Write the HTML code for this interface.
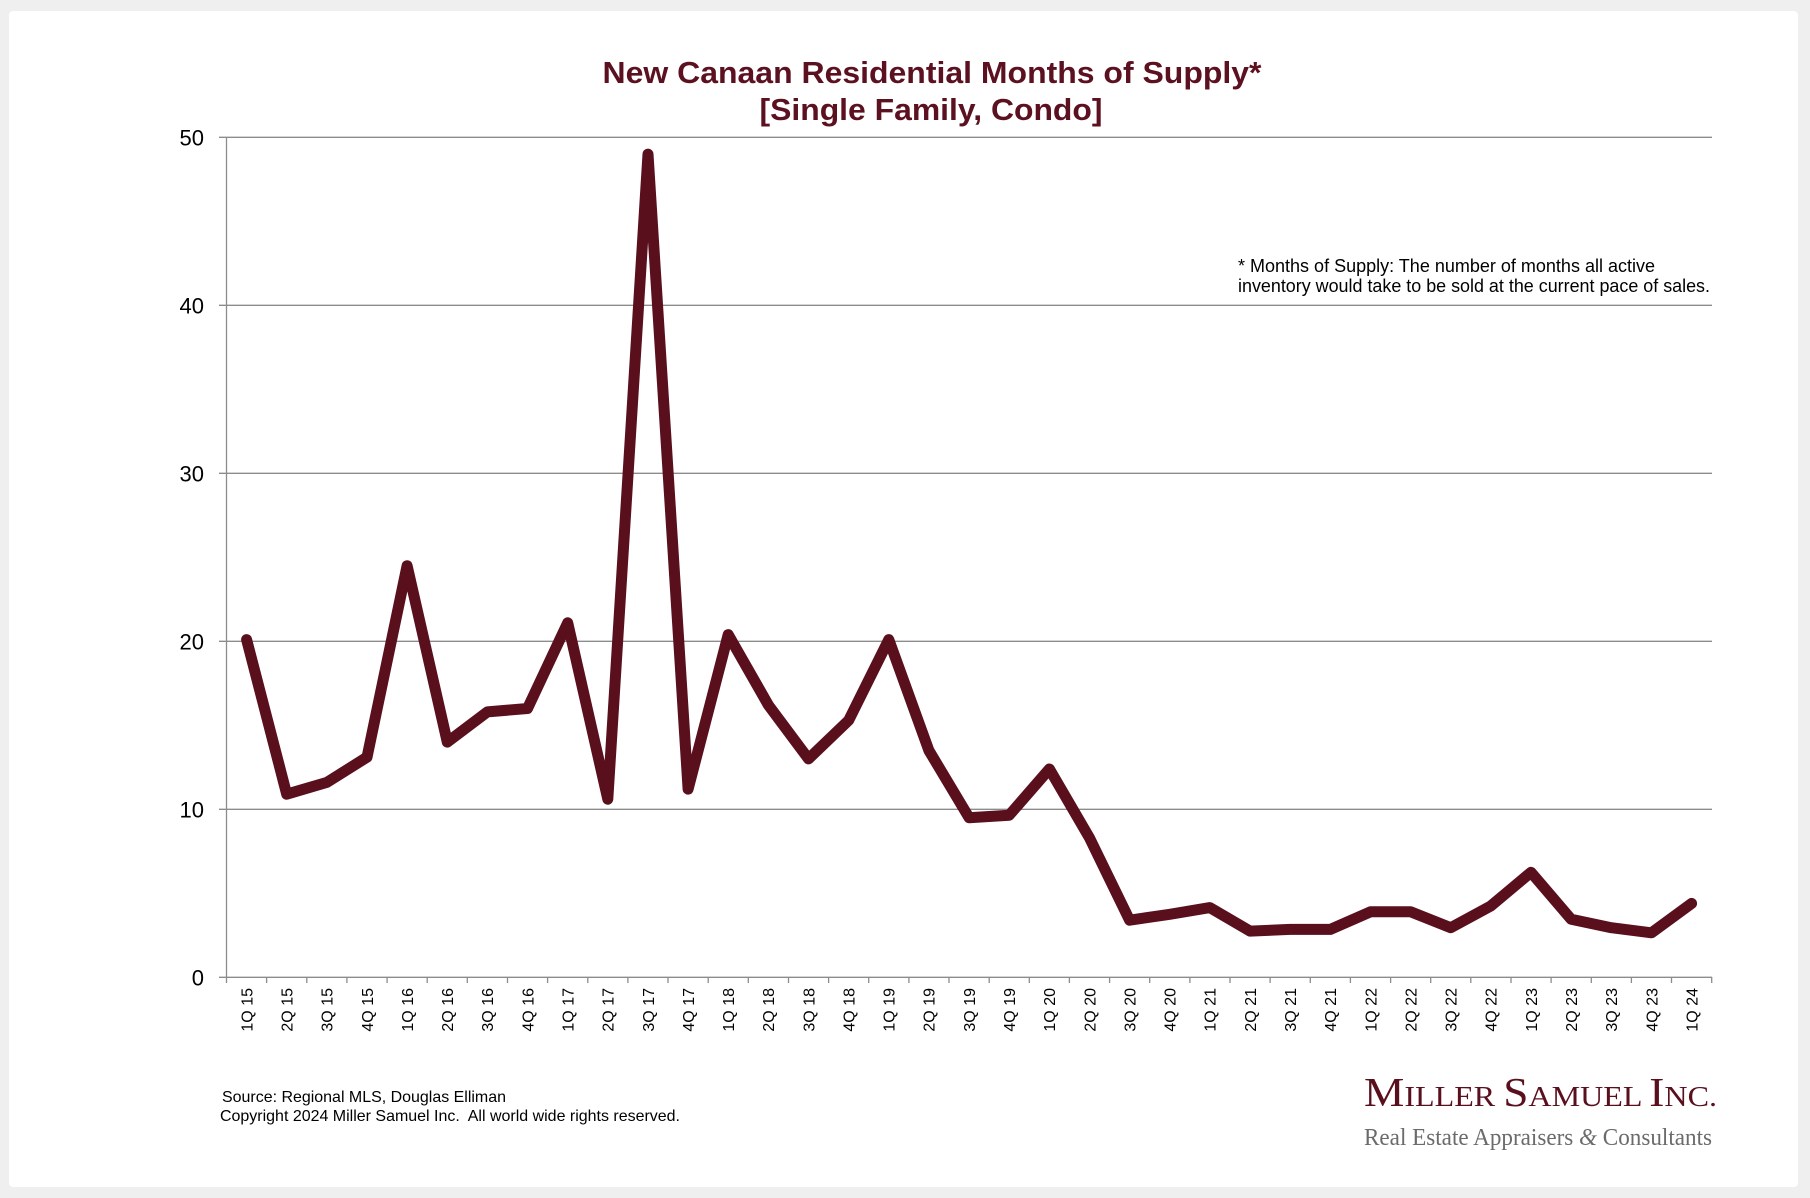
<!DOCTYPE html>
<html>
<head>
<meta charset="utf-8">
<style>
  html,body{margin:0;padding:0;background:#efefef;}
  svg{display:block;}
  text{font-family:"Liberation Sans",Arial,sans-serif;}
</style>
</head>
<body>
<svg width="1810" height="1198" viewBox="0 0 1810 1198" xmlns="http://www.w3.org/2000/svg">
  <rect x="0" y="0" width="1810" height="1198" fill="#efefef"/>
  <rect x="9" y="11" width="1789" height="1176" rx="4" fill="#ffffff"/>

  <!-- Title -->
  <text x="932" y="83" text-anchor="middle" font-size="31" font-weight="bold" fill="#5c1120" textLength="659" lengthAdjust="spacingAndGlyphs">New Canaan Residential Months of Supply*</text>
  <text x="931" y="120" text-anchor="middle" font-size="31" font-weight="bold" fill="#5c1120" textLength="343" lengthAdjust="spacingAndGlyphs">[Single Family, Condo]</text>

  <!-- Gridlines -->
  <g stroke="#8c8c8c" stroke-width="1.3" fill="none">
    <line x1="219" y1="137.3" x2="1712" y2="137.3"/>
    <line x1="219" y1="305.3" x2="1712" y2="305.3"/>
    <line x1="219" y1="473.3" x2="1712" y2="473.3"/>
    <line x1="219" y1="641.3" x2="1712" y2="641.3"/>
    <line x1="219" y1="809.3" x2="1712" y2="809.3"/>
    <line x1="219" y1="977.3" x2="1712" y2="977.3"/>
    <line x1="226.5" y1="137.3" x2="226.5" y2="983"/>
  </g>
  <!-- X ticks -->
  <g stroke="#8c8c8c" stroke-width="1.3">
    <line x1="266.6" y1="977" x2="266.6" y2="983"/>
    <line x1="306.8" y1="977" x2="306.8" y2="983"/>
    <line x1="346.9" y1="977" x2="346.9" y2="983"/>
    <line x1="387.1" y1="977" x2="387.1" y2="983"/>
    <line x1="427.2" y1="977" x2="427.2" y2="983"/>
    <line x1="467.3" y1="977" x2="467.3" y2="983"/>
    <line x1="507.5" y1="977" x2="507.5" y2="983"/>
    <line x1="547.6" y1="977" x2="547.6" y2="983"/>
    <line x1="587.8" y1="977" x2="587.8" y2="983"/>
    <line x1="627.9" y1="977" x2="627.9" y2="983"/>
    <line x1="668.0" y1="977" x2="668.0" y2="983"/>
    <line x1="708.2" y1="977" x2="708.2" y2="983"/>
    <line x1="748.3" y1="977" x2="748.3" y2="983"/>
    <line x1="788.5" y1="977" x2="788.5" y2="983"/>
    <line x1="828.6" y1="977" x2="828.6" y2="983"/>
    <line x1="868.7" y1="977" x2="868.7" y2="983"/>
    <line x1="908.9" y1="977" x2="908.9" y2="983"/>
    <line x1="949.0" y1="977" x2="949.0" y2="983"/>
    <line x1="989.2" y1="977" x2="989.2" y2="983"/>
    <line x1="1029.3" y1="977" x2="1029.3" y2="983"/>
    <line x1="1069.4" y1="977" x2="1069.4" y2="983"/>
    <line x1="1109.6" y1="977" x2="1109.6" y2="983"/>
    <line x1="1149.7" y1="977" x2="1149.7" y2="983"/>
    <line x1="1189.9" y1="977" x2="1189.9" y2="983"/>
    <line x1="1230.0" y1="977" x2="1230.0" y2="983"/>
    <line x1="1270.1" y1="977" x2="1270.1" y2="983"/>
    <line x1="1310.3" y1="977" x2="1310.3" y2="983"/>
    <line x1="1350.4" y1="977" x2="1350.4" y2="983"/>
    <line x1="1390.6" y1="977" x2="1390.6" y2="983"/>
    <line x1="1430.7" y1="977" x2="1430.7" y2="983"/>
    <line x1="1470.8" y1="977" x2="1470.8" y2="983"/>
    <line x1="1511.0" y1="977" x2="1511.0" y2="983"/>
    <line x1="1551.1" y1="977" x2="1551.1" y2="983"/>
    <line x1="1591.3" y1="977" x2="1591.3" y2="983"/>
    <line x1="1631.4" y1="977" x2="1631.4" y2="983"/>
    <line x1="1671.5" y1="977" x2="1671.5" y2="983"/>
    <line x1="1711.7" y1="977" x2="1711.7" y2="983"/>
  </g>

  <!-- Y labels -->
  <g font-size="22" fill="#000" text-anchor="end">
    <text x="204" y="145.3">50</text>
    <text x="204" y="313.3">40</text>
    <text x="204" y="481.3">30</text>
    <text x="204" y="649.3">20</text>
    <text x="204" y="817.3">10</text>
    <text x="204" y="985.3">0</text>
  </g>

  <!-- X labels -->
  <g font-size="16" fill="#000" text-anchor="end">
    <text transform="translate(252.4,988) rotate(-90)">1Q 15</text>
    <text transform="translate(292.5,988) rotate(-90)">2Q 15</text>
    <text transform="translate(332.7,988) rotate(-90)">3Q 15</text>
    <text transform="translate(372.8,988) rotate(-90)">4Q 15</text>
    <text transform="translate(412.9,988) rotate(-90)">1Q 16</text>
    <text transform="translate(453.1,988) rotate(-90)">2Q 16</text>
    <text transform="translate(493.2,988) rotate(-90)">3Q 16</text>
    <text transform="translate(533.3,988) rotate(-90)">4Q 16</text>
    <text transform="translate(573.5,988) rotate(-90)">1Q 17</text>
    <text transform="translate(613.6,988) rotate(-90)">2Q 17</text>
    <text transform="translate(653.8,988) rotate(-90)">3Q 17</text>
    <text transform="translate(693.9,988) rotate(-90)">4Q 17</text>
    <text transform="translate(734.0,988) rotate(-90)">1Q 18</text>
    <text transform="translate(774.2,988) rotate(-90)">2Q 18</text>
    <text transform="translate(814.3,988) rotate(-90)">3Q 18</text>
    <text transform="translate(854.5,988) rotate(-90)">4Q 18</text>
    <text transform="translate(894.6,988) rotate(-90)">1Q 19</text>
    <text transform="translate(934.7,988) rotate(-90)">2Q 19</text>
    <text transform="translate(974.9,988) rotate(-90)">3Q 19</text>
    <text transform="translate(1015.0,988) rotate(-90)">4Q 19</text>
    <text transform="translate(1055.2,988) rotate(-90)">1Q 20</text>
    <text transform="translate(1095.3,988) rotate(-90)">2Q 20</text>
    <text transform="translate(1135.4,988) rotate(-90)">3Q 20</text>
    <text transform="translate(1175.6,988) rotate(-90)">4Q 20</text>
    <text transform="translate(1215.7,988) rotate(-90)">1Q 21</text>
    <text transform="translate(1255.9,988) rotate(-90)">2Q 21</text>
    <text transform="translate(1296.0,988) rotate(-90)">3Q 21</text>
    <text transform="translate(1336.1,988) rotate(-90)">4Q 21</text>
    <text transform="translate(1376.3,988) rotate(-90)">1Q 22</text>
    <text transform="translate(1416.4,988) rotate(-90)">2Q 22</text>
    <text transform="translate(1456.6,988) rotate(-90)">3Q 22</text>
    <text transform="translate(1496.7,988) rotate(-90)">4Q 22</text>
    <text transform="translate(1536.8,988) rotate(-90)">1Q 23</text>
    <text transform="translate(1577.0,988) rotate(-90)">2Q 23</text>
    <text transform="translate(1617.1,988) rotate(-90)">3Q 23</text>
    <text transform="translate(1657.3,988) rotate(-90)">4Q 23</text>
    <text transform="translate(1697.4,988) rotate(-90)">1Q 24</text>
  </g>

  <!-- Data line -->
  <polyline fill="none" stroke="#5a0f1d" stroke-width="11" stroke-linejoin="round" stroke-linecap="round"
    points="246.6,639.6 286.7,794.2 326.9,782.4 367.0,757.2 407.1,565.7 447.3,742.1 487.4,711.9 527.5,708.5 567.7,622.8 607.8,799.2 648.0,154.1 688.1,789.1 728.2,634.6 768.4,705.1 808.5,758.9 848.7,720.3 888.8,639.6 928.9,750.5 969.1,817.7 1009.2,815.2 1049.4,769.0 1089.5,837.9 1129.6,920.2 1169.8,914.3 1209.9,907.6 1250.1,931.1 1290.2,929.4 1330.3,929.4 1370.5,911.8 1410.6,911.8 1450.8,927.7 1490.9,905.9 1531.0,872.3 1571.2,919.3 1611.3,927.7 1651.5,932.8 1691.6,903.4"/>

  <!-- Note -->
  <text x="1238" y="272" font-size="18" fill="#000" textLength="417" lengthAdjust="spacingAndGlyphs">* Months of Supply: The number of months all active</text>
  <text x="1238" y="292" font-size="18" fill="#000" textLength="472" lengthAdjust="spacingAndGlyphs">inventory would take to be sold at the current pace of sales.</text>

  <!-- Source -->
  <text x="222" y="1102" font-size="16" fill="#000" textLength="284" lengthAdjust="spacingAndGlyphs">Source: Regional MLS, Douglas Elliman</text>
  <text x="220" y="1121" font-size="16" fill="#000" textLength="460" lengthAdjust="spacingAndGlyphs" xml:space="preserve">Copyright 2024 Miller Samuel Inc.  All world wide rights reserved.</text>

  <!-- Logo -->
  <text x="1364" y="1106" fill="#5a0f1d" style="font-family:'Liberation Serif',serif;" textLength="353" lengthAdjust="spacingAndGlyphs"><tspan font-size="41">M</tspan><tspan font-size="29">ILLER </tspan><tspan font-size="41">S</tspan><tspan font-size="29">AMUEL </tspan><tspan font-size="41">I</tspan><tspan font-size="29">NC.</tspan></text>
  <text x="1364" y="1145" fill="#6b6b6b" font-size="24" style="font-family:'Liberation Serif',serif;" textLength="348" lengthAdjust="spacingAndGlyphs">Real Estate Appraisers <tspan font-style="italic">&amp;</tspan> Consultants</text>
</svg>
</body>
</html>
